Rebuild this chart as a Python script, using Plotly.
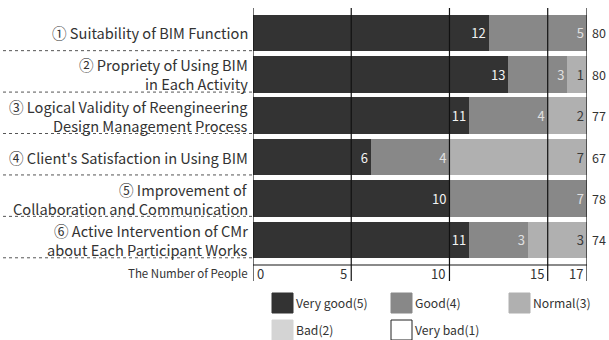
import plotly.graph_objects as go

# ---- data ----
labels = [
    "① Suitability of BIM Function",
    "② Propriety of Using BIM<br>in Each Activity",
    "③ Logical Validity of Reengineering<br>Design Management Process",
    "④ Client's Satisfaction in Using BIM",
    "⑤ Improvement of<br>Collaboration and Communication",
    "⑥ Active Intervention of CMr<br>about Each Participant Works",
]
very_good = [12, 13, 11, 6, 10, 11]
good = [5, 3, 4, 4, 7, 3]
normal = [0, 1, 2, 7, 0, 3]
bad = [0, 0, 0, 0, 0, 0]
very_bad = [0, 0, 0, 0, 0, 0]
scores = [80, 80, 77, 67, 78, 74]
x_ticks = [0, 5, 10, 15, 17]
axis_title = "The Number of People"
series_names = ["Very good(5)", "Good(4)", "Normal(3)", "Bad(2)", "Very bad(1)"]

# ---- style ----
W, H = 609, 340
PL, PR, PT, PB = 253, 587, 8, 264
FONT = "Noto Sans CJK KR"
TXT = "#333333"
colors = ["#333333", "#888888", "#b0b0b0", "#d4d4d4", "#ffffff"]
text_colors = ["#f2f2f2", "#e0e0e0", "#3a3a3a", "#3a3a3a", "#3a3a3a"]


def px_x(px):
    return (px - PL) / (PR - PL)


def px_y(py):
    return (PB - py) / (PB - PT)


rows = list(range(len(labels)))
series = [very_good, good, normal, bad, very_bad]

fig = go.Figure()
for name, vals, c, tc in zip(series_names, series, colors, text_colors):
    fig.add_trace(go.Bar(
        y=rows, x=vals, orientation="h", name=name,
        marker=dict(color=c, line=dict(width=0)),
        width=0.88,
        text=[str(v) if v else "" for v in vals],
        textposition="inside", insidetextanchor="end",
        textfont=dict(color=tc, size=13, family=FONT),
        showlegend=False, hoverinfo="skip",
    ))

shapes = []
annotations = []

# vertical reference lines
for t in x_ticks:
    shapes.append(dict(type="line", xref="x", yref="paper", x0=t, x1=t,
                       y0=px_y(281), y1=1, line=dict(color="#111111", width=1.2),
                       layer="above"))
    annotations.append(dict(
        x=t, xref="x", y=px_y(273), yref="paper", text=str(t), showarrow=False,
        xanchor="left" if t == 0 else "right", yanchor="middle",
        xshift=2 if t == 0 else -2,
        font=dict(family=FONT, size=13, color=TXT)))

annotations.append(dict(
    x=0, xref="paper", y=px_y(273), yref="paper", text=axis_title, showarrow=False,
    xanchor="right", yanchor="middle", xshift=-3,
    font=dict(family=FONT, size=11.5, color=TXT)))

# category labels and dotted separators
for i, lab in enumerate(labels):
    lines = lab.split("<br>")
    n = len(lines)
    for j, ln in enumerate(lines):
        off = (j - (n - 1) / 2) * 19
        annotations.append(dict(
            x=0, xref="paper", y=i, yref="y", text=ln, showarrow=False,
            xanchor="right", yanchor="middle", xshift=-3, yshift=-off,
            font=dict(family=FONT, size=14.6, color=TXT)))
    shapes.append(dict(type="line", xref="paper", yref="y",
                       x0=px_x(3), x1=px_x(252), y0=i + 0.43, y1=i + 0.43,
                       line=dict(color="#555555", width=1, dash="dot")))
    annotations.append(dict(
        x=1, xref="paper", y=i, yref="y", text=str(scores[i]), showarrow=False,
        xanchor="left", yanchor="middle", xshift=3,
        font=dict(family=FONT, size=12.5, color=TXT)))

# custom legend
leg_cols = [272, 391, 509]
leg_rows = [303, 330]
for k, (name, c) in enumerate(zip(series_names, colors)):
    cx = leg_cols[k % 3]
    cy = leg_rows[k // 3]
    shapes.append(dict(type="rect", xref="paper", yref="paper",
                       x0=px_x(cx), x1=px_x(cx + 21), y0=px_y(cy + 10), y1=px_y(cy - 10),
                       fillcolor=c,
                       line=dict(color="#222222" if c == "#ffffff" else c, width=1)))
    annotations.append(dict(
        x=px_x(cx + 22), xref="paper", y=px_y(cy), yref="paper", text=name,
        showarrow=False, xanchor="left", yanchor="middle",
        font=dict(family=FONT, size=12.2, color=TXT)))

fig.update_layout(
    width=W, height=H,
    margin=dict(l=PL, r=W - PR, t=PT, b=H - PB),
    barmode="stack", bargap=0.12,
    plot_bgcolor="white", paper_bgcolor="white",
    xaxis=dict(range=[0, 17], showgrid=False, zeroline=False, showticklabels=False,
               showline=True, linecolor="#8a8a8a", linewidth=1.5, fixedrange=True),
    yaxis=dict(range=[len(labels) - 1 + 0.58, -0.6], showgrid=False, zeroline=False,
               showticklabels=False, showline=False, fixedrange=True),
    shapes=shapes, annotations=annotations,
    font=dict(family=FONT, color=TXT),
)

fig.write_html("out.html")
